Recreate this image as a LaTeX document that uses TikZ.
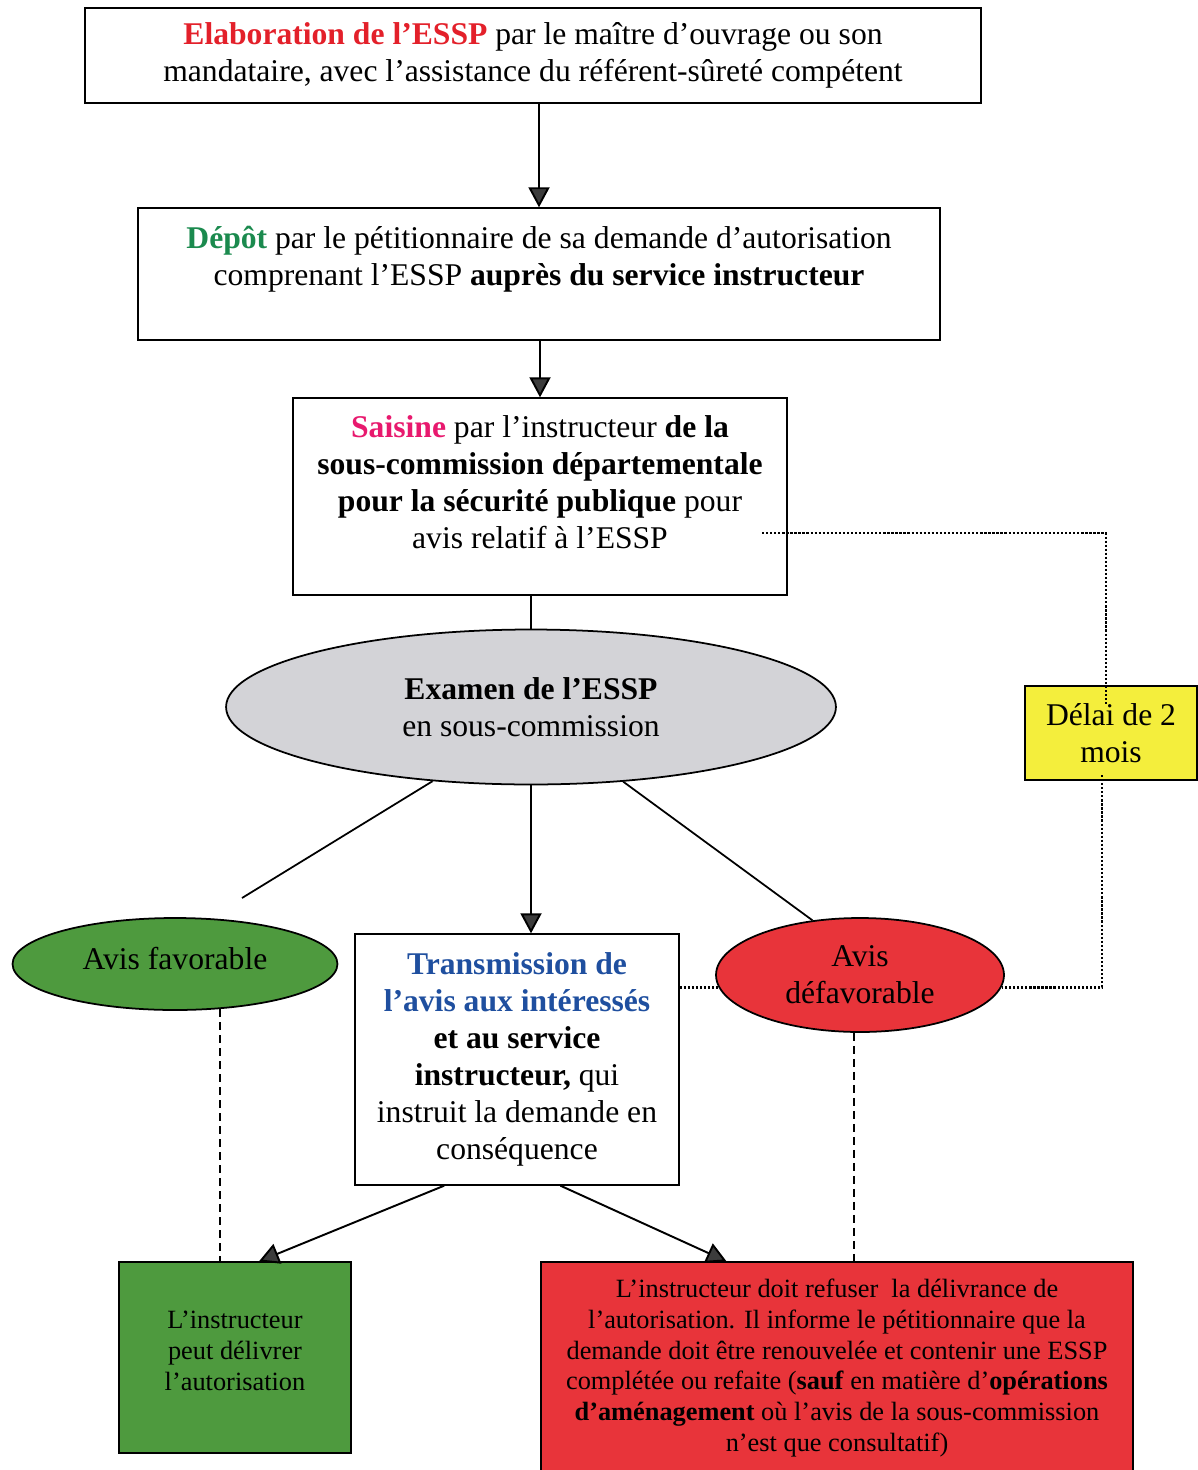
\documentclass[tikz,border=0pt]{standalone}
\usepackage{fontspec}
\setmainfont{Liberation Serif}
\usetikzlibrary{positioning}
\usetikzlibrary{shapes.geometric}
\usetikzlibrary{arrows.meta}

\definecolor{elabred}{HTML}{E3202A}
\definecolor{depotgreen}{HTML}{1B8A4E}
\definecolor{saisinepink}{HTML}{E8196E}
\definecolor{transblue}{HTML}{1F4F9F}
\definecolor{examgray}{HTML}{D3D3D7}
\definecolor{avisgreen}{HTML}{4E9A3E}
\definecolor{avisred}{HTML}{E8343A}
\definecolor{delaiyellow}{HTML}{F4EE3C}
\definecolor{tipgray}{HTML}{3C3C3C}

\begin{document}
\begin{tikzpicture}[x = 0.02cm, y = -0.02cm,
	box/.style = {draw = black, line width = 0.8pt, inner sep = 0pt, align = center, font = \fontsize{18}{21}\selectfont},
	smallbox/.style = {box, font = \fontsize{15}{17.6}\selectfont},
	elli/.style = {ellipse, draw = black, line width = 1pt, inner sep = 0pt, align = center, font = \fontsize{18}{21}\selectfont},
	arr/.style = {line width = 1.1pt, -{Triangle[length = 0.4cm, width = 0.42cm, fill = tipgray]}},
	ligne/.style = {line width = 1pt},
	pointille/.style = {densely dotted, line width = 1.3pt},
	tirets/.style = {dash pattern = on 0.16cm off 0.1cm, line width = 1.1pt}
]
	\useasboundingbox (0, 0) rectangle (1197, 1470);

	% boxes of the procedure
	\node [box, minimum width = 17.92cm, minimum height = 1.9cm] (elab) at (533, 55.5) {\textcolor{elabred}{\textbf{Elaboration de l’ESSP}} par le maître d’ouvrage ou son\\mandataire, avec l’assistance du référent-sûreté compétent};
	\node [box, minimum width = 16.04cm] (depot) at (539, 274) {\parbox[c][2.64cm][t]{16cm}{\centering\vspace*{0.36cm}\textcolor{depotgreen}{\textbf{Dépôt}} par le pétitionnaire de sa demande d’autorisation\\comprenant l’ESSP \textbf{auprès du service instructeur}}};
	\node [box, minimum width = 9.88cm] (saisine) at (540, 496.5) {\parbox[c][3.94cm][t]{9.8cm}{\centering\vspace*{0.36cm}\textcolor{saisinepink}{\textbf{Saisine}} par l’instructeur \textbf{de la}\\\textbf{sous-commission départementale}\\\textbf{pour la sécurité publique} pour\\avis relatif à l’ESSP}};
	\node [elli, fill = examgray, minimum width = 12.2cm, minimum height = 3.1cm] (examen) at (531, 707) {\textbf{Examen de l’ESSP}\\en sous-commission};
	\node [elli, fill = avisgreen, minimum width = 6.5cm, minimum height = 1.84cm] (favorable) at (175, 964) {\raisebox{0.24cm}{Avis favorable}};
	\node [box, minimum width = 6.48cm, minimum height = 5.02cm] (transmission) at (517, 1059.5) {\textcolor{transblue}{\textbf{Transmission de}}\\\textcolor{transblue}{\textbf{l’avis aux intéressés}}\\\textbf{et au service}\\\textbf{instructeur,} qui\\instruit la demande en\\conséquence};
	\node [elli, fill = avisred, minimum width = 5.76cm, minimum height = 2.28cm] (defavorable) at (860, 975) {Avis\\défavorable};
	\node [box, fill = delaiyellow, minimum width = 3.44cm, minimum height = 1.88cm] (delai) at (1111, 733) {Délai de 2\\mois};
	\node [smallbox, fill = avisgreen, minimum width = 4.64cm, minimum height = 3.82cm] (peut) at (235, 1357.5) {L’instructeur\\peut délivrer\\l’autorisation\\[-0.35cm]\mbox{}};
	\node [smallbox, fill = avisred, minimum width = 11.84cm, minimum height = 4.24cm] (refus) at (837, 1368) {L’instructeur doit refuser\ \ la délivrance de\\l’autorisation. Il informe le pétitionnaire que la\\demande doit être renouvelée et contenir une ESSP\\complétée ou refaite (\textbf{sauf} en matière d’\textbf{opérations}\\\textbf{d’aménagement} où l’avis de la sous-commission\\n’est que consultatif)};

	% free ends of the connectors
	\coordinate (favtop) at (242, 898);
	\coordinate (sdot) at (762, 533);
	\coordinate (dtop) at (1106, 705);
	\coordinate (dbot) at (1102, 775);

	% connectors
	\draw [arr] (elab.south -| depot.north) -- (depot.north);
	\draw [arr] (depot.south -| saisine.north) -- (saisine.north);
	\draw [ligne] (saisine.south -| examen.north) -- (examen.north);
	\draw [ligne] (examen.217.6) -- (favtop);
	\draw [arr] (examen.south) -- (examen.south |- transmission.north);
	\draw [ligne] (examen.321.5) -- (defavorable.131);
	\draw [pointille] (transmission.east |- defavorable.185) -- (defavorable.185);
	\draw [pointille] (sdot) -| (dtop);
	\draw [pointille] (dbot) |- (defavorable.355);
	\draw [tirets] (favorable.315) -- (favorable.315 |- peut.north);
	\draw [tirets] (defavorable.264) -- (defavorable.264 |- refus.north);
	\draw [arr] (transmission.240.8) -- (peut.76.5);
	\draw [arr] (transmission.289.7) -- (refus.136.3);
\end{tikzpicture}
\end{document}
